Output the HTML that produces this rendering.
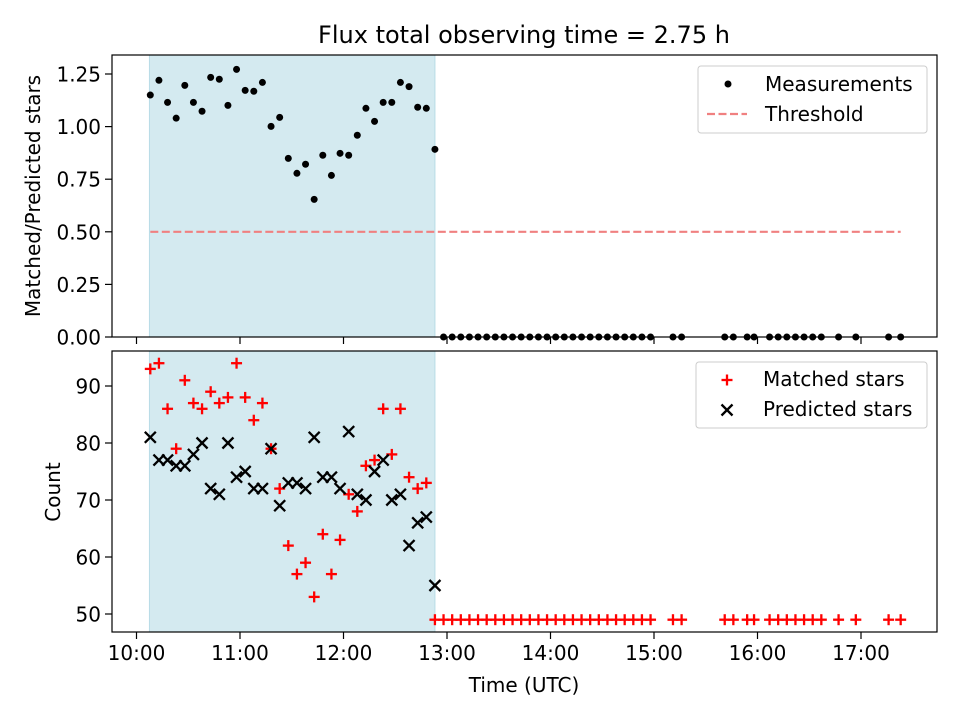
<!DOCTYPE html>
<html><head><meta charset="utf-8"><style>
body{margin:0;background:#fff}
svg text{font-family:"DejaVu Sans","Liberation Sans",sans-serif;fill:#000}
</style></head><body>
<svg id="c" width="960" height="720" xmlns="http://www.w3.org/2000/svg"></svg>
<script>
// minutes since 10:00
const minutes=[8,13,18,23,28,33,38,43,48,53,58,63,68,73,78,83,88,93,98,103,108,113,118,123,128,133,138,143,148,153,158,163,168,173,
178,183,188,193,198,203,208,213,218,223,228,233,238,243,248,253,258,263,268,273,278,283,288,293,298,
311,316,341,346,354,358,367,372,377,382,387,392,397,407,417,436,443];
const ratio=[1.15,1.22,1.115,1.04,1.196,1.115,1.073,1.234,1.225,1.101,1.272,1.172,1.168,1.21,1.001,1.044,0.849,0.778,0.821,0.654,0.864,0.768,0.873,0.864,0.959,1.087,1.025,1.115,1.115,1.21,1.19,1.092,1.087,0.892];
const matched=[93,94,86,79,91,87,86,89,87,88,94,88,84,87,79,72,62,57,59,53,64,57,63,71,68,76,77,86,78,86,74,72,73,49];
const predicted=[81,77,77,76,76,78,80,72,71,80,74,75,72,72,79,69,73,73,72,81,74,74,72,82,71,70,75,77,70,71,62,66,67,55];
const zeroMatched=49;
const xTicks=["10:00","11:00","12:00","13:00","14:00","15:00","16:00","17:00"];
const topTicks=[0,0.25,0.5,0.75,1.0,1.25];
const botTicks=[50,60,70,80,90];
const threshold=0.5;
const shadeStart=7.5, shadeEnd=173;

const svg=document.getElementById('c');
const NS='http://www.w3.org/2000/svg';
function mk(tag,attrs,parent){const e=document.createElementNS(NS,tag);for(const k in attrs)e.setAttribute(k,attrs[k]);(parent||svg).appendChild(e);return e;}
const L=112,R=937,T1=55,B1=337,T2=351,B2=632;
const FS=20;
const xs=m=>136.5+m*103.5/60;
const y1=v=>337-v*210.4;
const y2=v=>614-(v-50)*5.7;

[[T1,B1],[T2,B2]].forEach((p,i)=>{
 const r=mk('rect',{x:xs(shadeStart),y:p[0],width:xs(shadeEnd)-xs(shadeStart),height:p[1]-p[0],fill:'#d4eaf0',stroke:'#b8dbe6','stroke-width':1});
 
 
});
const th=mk('line',{x1:xs(8),x2:xs(443),y1:y1(threshold),y2:y1(threshold),stroke:'#f08080','stroke-width':2.2,'stroke-dasharray':'8,3.5'});


minutes.forEach((m,i)=>{
 const v=i<ratio.length?ratio[i]:0;
 const c=mk('circle',{cx:xs(m),cy:y1(v),r:3.5,fill:'#000'});
 
 
});
function plus(x,y,col,name){const g=mk('g',{stroke:col,'stroke-width':2.3});mk('line',{x1:x-5.5,x2:x+5.5,y1:y,y2:y},g);mk('line',{x1:x,x2:x,y1:y-5.5,y2:y+5.5},g);
 
 return g;}
function cross(x,y,name){const g=mk('g',{stroke:'#000','stroke-width':2.3});mk('line',{x1:x-5.5,x2:x+5.5,y1:y-5.5,y2:y+5.5},g);mk('line',{x1:x-5.5,x2:x+5.5,y1:y+5.5,y2:y-5.5},g);
 
 return g;}
minutes.forEach((m,i)=>{const v=i<matched.length?matched[i]:zeroMatched;plus(xs(m),y2(v),'#ff0000','matched-star-point');});
predicted.forEach((v,i)=>cross(xs(minutes[i]),y2(v),'predicted-star-point'));

[[T1,B1,'top-axes'],[T2,B2,'bottom-axes']].forEach(p=>{
 const r=mk('rect',{x:L,y:p[0],width:R-L,height:p[1]-p[0],fill:'none',stroke:'#000','stroke-width':1.2});
 
 
});
xTicks.forEach((t,i)=>{
 const x=xs(i*60);
 mk('line',{x1:x,x2:x,y1:B1,y2:B1+7,stroke:'#000','stroke-width':1.2});
 mk('line',{x1:x,x2:x,y1:B2,y2:B2+7,stroke:'#000','stroke-width':1.2});
 const tx=mk('text',{x:x,y:B2+28,'font-size':FS,'text-anchor':'middle'});tx.textContent=t;
 
 
});
topTicks.forEach(v=>{
 const y=y1(v);mk('line',{x1:L-7,x2:L,y1:y,y2:y,stroke:'#000','stroke-width':1.2});
 const tx=mk('text',{x:L-11,y:y+7.5,'font-size':FS,'text-anchor':'end'});tx.textContent=v.toFixed(2);
 
 
});
botTicks.forEach(v=>{
 const y=y2(v);mk('line',{x1:L-7,x2:L,y1:y,y2:y,stroke:'#000','stroke-width':1.2});
 const tx=mk('text',{x:L-11,y:y+7.5,'font-size':FS,'text-anchor':'end'});tx.textContent=v;
 
 
});
</script>
<svg width="960" height="720" style="position:absolute;left:0;top:0" xmlns="http://www.w3.org/2000/svg">
<text x="524" y="43" font-size="24" text-anchor="middle">Flux total observing time = 2.75 h</text>
<text x="524" y="692" font-size="20" text-anchor="middle">Time (UTC)</text>
<text transform="translate(40,196) rotate(-90)" font-size="20" text-anchor="middle">Matched/Predicted stars</text>
<text transform="translate(60,492) rotate(-90)" font-size="20" text-anchor="middle">Count</text>
<g>
<rect x="698" y="66" width="229" height="67" rx="3" fill="#fff" fill-opacity="0.8" stroke="#ccc"/>
<circle cx="728" cy="84" r="3.5" fill="#000"/>
<text x="765" y="91" font-size="20">Measurements</text>
<line x1="707" x2="747" y1="114" y2="114" stroke="#f08080" stroke-width="2.2" stroke-dasharray="8,3.5"/>
<text x="765" y="121" font-size="20">Threshold</text>
</g>
<g>
<rect x="696" y="362" width="231" height="66" rx="3" fill="#fff" fill-opacity="0.8" stroke="#ccc"/>
<g stroke="#f00" stroke-width="2.3"><line x1="721.5" x2="732.5" y1="380" y2="380"/><line x1="727" x2="727" y1="374.5" y2="385.5"/></g>
<text x="763" y="386" font-size="20">Matched stars</text>
<g stroke="#000" stroke-width="2.3"><line x1="721.5" x2="732.5" y1="404.5" y2="415.5"/><line x1="721.5" x2="732.5" y1="415.5" y2="404.5"/></g>
<text x="763" y="416" font-size="20">Predicted stars</text>
</g>
</svg>
</body></html>
